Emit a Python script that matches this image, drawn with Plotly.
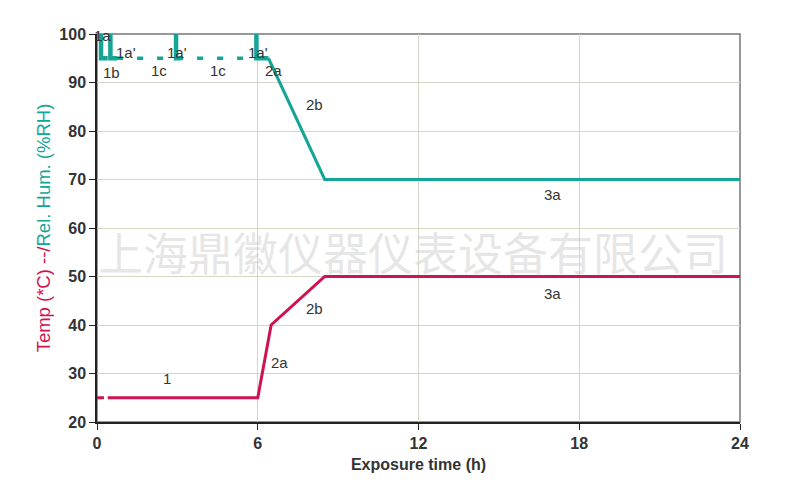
import plotly.graph_objects as go

# --- data ---
temp_t = [0.4, 6.0, 6.5, 8.5, 24.0]
temp_v = [25, 25, 40, 50, 50]
temp_lead_t = [0.0, 0.4]
temp_lead_v = [25, 25]

rh_t = [5.95, 5.95, 6.4, 8.5, 24.0]
rh_v = [100, 95, 95, 70, 70]
rh_dash_t = [0.75, 5.95]
rh_dash_v = [95, 95]
# short 1a/1b steps: (start time, foot end time)
rh_steps = [(0.15, 0.4), (0.5, 0.75), (2.95, 3.13)]

rh_labels = [("1a", 0.2, 99.6), ("1a'", 1.1, 96.2), ("1a'", 3.0, 96.2), ("1a'", 6.0, 96.2),
             ("1b", 0.55, 92), ("1c", 2.3, 92.4), ("1c", 4.5, 92.4), ("2a", 6.6, 92.4),
             ("2b", 8.1, 85.5), ("3a", 17.0, 67)]
temp_labels = [("1", 2.6, 29), ("2a", 6.8, 32.2), ("2b", 8.1, 43.5), ("3a", 17.0, 46.5)]

RED = "#cf1250"
TEAL = "#14a596"
FONT = "Liberation Sans, Arial"

fig = go.Figure()

fig.add_trace(go.Scatter(x=temp_lead_t, y=temp_lead_v, mode="lines",
                         line=dict(color=RED, width=3, dash="7px,5px")))
fig.add_trace(go.Scatter(x=temp_t, y=temp_v, mode="lines", line=dict(color=RED, width=3)))

fig.add_trace(go.Scatter(x=rh_dash_t, y=rh_dash_v, mode="lines",
                         line=dict(color=TEAL, width=3.5, dash="6px,14px")))
for t0, t1 in rh_steps:
    fig.add_trace(go.Scatter(x=[t0, t0, t1], y=[100, 95, 95], mode="lines",
                             line=dict(color=TEAL, width=4.5)))
fig.add_trace(go.Scatter(x=rh_t[:3], y=rh_v[:3], mode="lines", line=dict(color=TEAL, width=4.5)))
fig.add_trace(go.Scatter(x=rh_t[2:], y=rh_v[2:], mode="lines", line=dict(color=TEAL, width=3)))

for txt, x, y in rh_labels + temp_labels:
    fig.add_annotation(x=x, y=y, text=txt, showarrow=False,
                       font=dict(family=FONT, size=15, color="#333333"))

# watermark
fig.add_annotation(x=0.492, y=0.44, xref="paper", yref="paper",
                   text="上海鼎徽仪器仪表设备有限公司", showarrow=False,
                   font=dict(family="Noto Sans CJK SC", size=45, color="rgba(200,200,200,0.45)"))

# grey frame (top/right)
fig.add_shape(type="rect", xref="paper", yref="paper", x0=0, y0=0, x1=1, y1=1,
              line=dict(color="#777777", width=1.5), layer="below")

fig.update_xaxes(range=[0, 24], tickvals=[0, 6, 12, 18, 24], showgrid=True,
                 gridcolor="#d6d6c6", gridwidth=1.2, zeroline=False,
                 showline=True, linecolor="#222222", linewidth=1.5,
                 ticks="outside", ticklen=6, tickcolor="#222222",
                 tickfont=dict(family=FONT, size=16, color="#333333", weight="bold"),
                 title=dict(text="Exposure time (h)", standoff=8,
                            font=dict(family=FONT, size=16, color="#333333", weight="bold")))
fig.update_yaxes(range=[20, 100], tickvals=list(range(20, 101, 10)), showgrid=True,
                 gridcolor="#d6d6c6", gridwidth=1.2, zeroline=False,
                 showline=True, linecolor="#222222", linewidth=1.5,
                 ticks="outside", ticklen=6, tickcolor="#222222",
                 tickfont=dict(family=FONT, size=16, color="#333333", weight="bold"),
                 title=dict(text=f"<span style='color:{RED}'>Temp (*C) --/</span>"
                                 f"<span style='color:{TEAL}'>Rel. Hum. (%RH)</span>",
                            standoff=4,
                            font=dict(family=FONT, size=18.5)))

fig.update_layout(width=796, height=492, showlegend=False,
                  margin=dict(l=89, r=64, t=26, b=78),
                  paper_bgcolor="white", plot_bgcolor="white")

fig.write_html("out.html")
